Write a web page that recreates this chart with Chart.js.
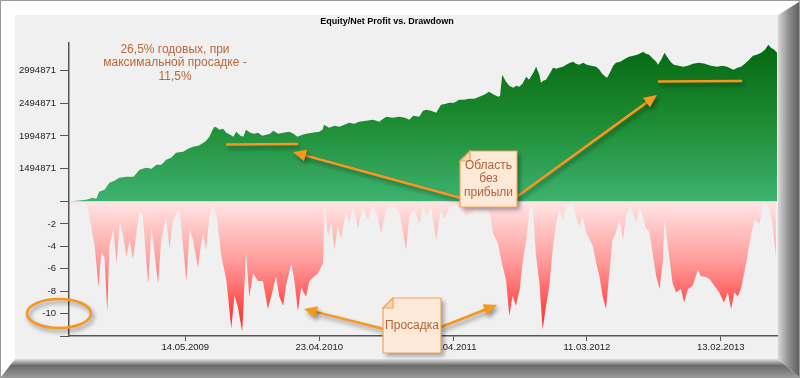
<!DOCTYPE html>
<html>
<head>
<meta charset="utf-8">
<script src="https://cdn.jsdelivr.net/npm/chart.js@4"></script>
<style>
  html, body { margin: 0; padding: 0; background: #fff; }
  #wrap { width: 800px; height: 378px; position: relative; }
</style>
</head>
<body>
<div id="wrap"><canvas id="chart" width="800" height="378"></canvas></div>
<script>
// Equity curve: trading day index -> equity
const eqDays = [0,32,43,50,55,65,74,83,92,105,
  118,129,141,151,160,169,178,187,196,209,
  218,227,237,246,251,257,262,266,271,275,
  282,288,295,301,306,314,319,324,332,339,
  346,354,361,368,374,383,392,403,411,418,
  427,434,445,458,464,467,473,476,486,495,
  504,513,522,531,544,557,568,575,581,592,
  605,615,623,630,641,648,654,663,672,681,
  690,696,705,714,723,732,742,751,760,769,
  778,786,789,793,797,800,806,813,819,824,
  830,837,842,850,855,861,864,868,873,881,
  886,892,897,904,910,917,923,928,934,941,
  948,956,965,971,976,982,985,991,996,1001,
  1009,1018,1025,1033,1040,1048,1051,1056,1062,1069,
  1075,1078,1084,1090,1096,1101,1107,1116,1124,1133,
  1142,1153,1164,1175,1186,1196,1205,1212,1217,1223,
  1230,1237,1245,1252,1259,1267,1274,1280,1285,1291,
  1296];
const eqValues = [995000,1021000,1051000,1036000,1143000,1173000,1280000,1311000,1357000,1372000,
  1372000,1479000,1509000,1494000,1555000,1555000,1631000,1662000,1738000,1754000,
  1800000,1830000,1845000,1891000,1922000,1983000,2074000,2136000,2120000,2090000,
  2105000,2044000,2013000,1983000,2059000,1998000,1983000,2090000,2044000,2029000,
  2044000,1998000,2013000,2029000,2074000,2029000,2044000,2059000,2029000,1983000,
  2013000,2029000,2044000,2059000,2090000,2166000,2135000,2120000,2151000,2135000,
  2166000,2196000,2181000,2212000,2227000,2242000,2212000,2257000,2288000,2273000,
  2288000,2273000,2242000,2303000,2288000,2379000,2395000,2379000,2349000,2471000,
  2486000,2502000,2502000,2547000,2547000,2563000,2563000,2593000,2624000,2669000,
  2624000,2593000,2608000,2929000,2868000,2822000,2761000,2731000,2761000,2746000,
  2792000,2899000,2853000,2960000,3051000,2929000,2807000,2838000,2853000,2960000,
  3036000,3021000,3036000,3051000,3082000,3112000,3128000,3097000,3082000,3112000,
  3082000,3066000,3051000,3005000,2944000,2899000,2883000,2975000,3066000,3112000,
  3128000,3173000,3204000,3219000,3234000,3265000,3280000,3250000,3234000,3173000,
  3128000,3082000,3158000,3265000,3189000,3128000,3082000,3066000,3051000,3066000,
  3097000,3112000,3097000,3066000,3051000,3066000,3051000,3021000,3005000,3036000,
  3051000,3097000,3158000,3219000,3234000,3265000,3311000,3387000,3341000,3311000,
  3265000];

// Drawdown, % : trading day index -> value
const ddDays = [0,8,19,32,37,47,54,59,65,70,
  74,81,87,93,99,105,111,117,123,129,
  135,145,151,163,169,178,184,190,202,215,
  221,227,236,245,251,257,263,270,279,288,
  297,303,309,317,324,330,337,346,355,364,
  370,379,385,392,398,407,413,419,425,434,
  440,446,456,465,468,474,480,486,492,498,
  507,513,520,529,538,547,556,565,571,581,
  593,605,617,623,632,642,648,654,663,672,
  681,687,696,709,727,745,770,776,785,791,
  800,806,812,818,825,831,837,843,849,855,
  861,867,873,879,886,892,898,904,910,922,
  928,934,940,947,959,965,971,977,983,989,
  995,1001,1008,1014,1020,1026,1032,1038,1044,1050,
  1056,1062,1069,1075,1081,1087,1090,1096,1105,1111,
  1120,1126,1133,1142,1151,1157,1163,1172,1181,1190,
  1199,1206,1212,1218,1224,1230,1236,1242,1248,1255,
  1264,1270,1276,1282,1288,1294];
const ddValues = [0,-0.3,-0.2,0,-1.3,-4,-7.6,-4.5,-5,-9.8,
  -4,-2.5,-5.5,-1.9,-3,-4.9,-3.5,-5.1,-3,-0.9,
  -1.2,-7.3,-2.3,-7.3,-3.3,-1.5,-4.2,-1.7,-0.6,-7.1,
  -2.5,-3.4,-5.9,-2.8,-4.3,-1.3,-0.4,-1.2,-4.9,-7,
  -11.3,-8.4,-9.4,-11.6,-4.5,-8.5,-6.4,-7.1,-7.1,-9.6,
  -8.5,-6.7,-8.5,-9.3,-7.3,-5.5,-7.2,-9.8,-7.7,-8.5,
  -7.1,-6.8,-6.4,-5.5,-0.1,-3.1,-1.9,-4.3,-2.2,-3.3,
  -0.9,-1.9,-0.4,-2.4,-0.4,-1.6,-0.4,-1.3,-2.8,-0.7,
  -0.3,-1.0,-4.3,-1.3,-0.7,-2.0,-0.2,-1.3,-0.5,-3.4,
  -0.7,-1.6,-0.5,-0.3,-1.3,-0.7,-0.9,-2.8,-3.7,-5.2,
  -7,-10.2,-8.4,-9.3,-7.8,-5.2,-3.4,-0.7,-0.4,-4.9,
  -7.2,-11.4,-9.4,-7.6,-4.0,-1.9,-0.7,-1.6,-0.4,-0.1,
  -1.3,-2.2,-1.3,-2.8,-4,-5.5,-6.7,-8.5,-9.6,-6.4,
  -3.4,-2.8,-1.6,-3.4,-1.3,-0.4,-1.0,-1.9,-0.4,-1.3,
  -2.4,-2.7,-4.8,-6.7,-7.8,-5.4,-1.6,-3.9,-7.3,-8.1,
  -7.8,-9.0,-7.8,-7.5,-6.1,-6.7,-6.7,-6.9,-7.5,-8.1,
  -9.0,-8.1,-9.6,-8.1,-8.5,-7.8,-6.4,-4.8,-3.1,-1.6,
  -2.0,-0.4,-0.1,-0.7,-2.0,-4.9];

// X axis ticks (day index -> date label)
const tickDays = [213, 458, 703, 948, 1193];
const tickLabels = ['14.05.2009', '23.04.2010', '13.04.2011', '11.03.2012', '13.02.2013'];
const eqTicks = [994871, 1494871, 1994871, 2494871, 2994871];
const ddTicks = [-12, -10, -8, -6, -4, -2, 0];

const FONT = '"Liberation Sans", Arial, sans-serif';

function vGradient(ctx, scale, stops) {
  const g = ctx.createLinearGradient(0, scale.top, 0, scale.bottom);
  stops.forEach(s => g.addColorStop(s[0], s[1]));
  return g;
}

// background panel + bevel frame
const framePlugin = {
  id: 'frame',
  beforeDraw(chart) {
    const c = chart.ctx;
    c.save();
    c.fillStyle = '#ffffff';
    c.fillRect(0, 0, 800, 378);
    c.strokeStyle = '#9a9a9a';
    c.lineWidth = 1;
    c.strokeRect(0.5, 0.5, 799, 377);
    // right face
    let g = c.createLinearGradient(778, 0, 800, 0);
    g.addColorStop(0, '#d8d8d8');
    g.addColorStop(0.5, '#8c8c8c');
    g.addColorStop(1, '#5c5c5c');
    c.fillStyle = g;
    c.beginPath();
    c.moveTo(778, 15); c.lineTo(799, 2); c.lineTo(799, 377); c.lineTo(778, 359);
    c.closePath(); c.fill();
    // bottom face
    g = c.createLinearGradient(0, 359, 0, 378);
    g.addColorStop(0, '#e0e0e0');
    g.addColorStop(0.35, '#6a6a6a');
    g.addColorStop(1, '#9a9a9a');
    c.fillStyle = g;
    c.beginPath();
    c.moveTo(15, 359); c.lineTo(778, 359); c.lineTo(799, 377); c.lineTo(1, 377);
    c.closePath(); c.fill();
    // panel
    c.fillStyle = '#f0f0f0';
    c.fillRect(15, 15, 763, 344);
    c.restore();
  }
};

function arrow(c, x1, y1, x2, y2) {
  const ang = Math.atan2(y2 - y1, x2 - x1);
  const len = 13, half = 6;
  const bx = x2 - Math.cos(ang) * len, by = y2 - Math.sin(ang) * len;
  c.beginPath();
  c.moveTo(x1, y1); c.lineTo(bx, by);
  c.stroke();
  c.beginPath();
  c.moveTo(x2, y2);
  c.lineTo(bx + Math.sin(ang) * half, by - Math.cos(ang) * half);
  c.lineTo(bx - Math.sin(ang) * half, by + Math.cos(ang) * half);
  c.closePath();
  c.fill();
}

function note(c, x, y, w, h, lines, lineH) {
  const f = 10;
  c.save();
  c.shadowColor = 'rgba(0,0,0,0.35)';
  c.shadowBlur = 4; c.shadowOffsetX = 3; c.shadowOffsetY = 3;
  c.fillStyle = '#fde9d7';
  c.beginPath();
  c.moveTo(x + f, y); c.lineTo(x + w, y); c.lineTo(x + w, y + h);
  c.lineTo(x, y + h); c.lineTo(x, y + f); c.closePath();
  c.fill();
  c.restore();
  c.save();
  c.strokeStyle = '#f2a55a';
  c.lineWidth = 1.2;
  c.beginPath();
  c.moveTo(x + f, y); c.lineTo(x + w, y); c.lineTo(x + w, y + h);
  c.lineTo(x, y + h); c.lineTo(x, y + f); c.closePath();
  c.stroke();
  c.fillStyle = '#fbd3b4';
  c.beginPath();
  c.moveTo(x, y + f); c.lineTo(x + f, y + f); c.lineTo(x + f, y); c.closePath();
  c.fill(); c.stroke();
  c.fillStyle = '#b0643a';
  c.font = '12px ' + FONT;
  c.textAlign = 'center';
  c.textBaseline = 'middle';
  lines.forEach((t, i) => c.fillText(t, x + w / 2, y + h / 2 + (i - (lines.length - 1) / 2) * lineH));
  c.restore();
}

const annotPlugin = {
  id: 'annot',
  afterDraw(chart) {
    const c = chart.ctx;
    c.save();
    // title
    c.fillStyle = '#000';
    c.font = 'bold 9px ' + FONT;
    c.textAlign = 'center';
    c.textBaseline = 'middle';
    c.fillText('Equity/Net Profit vs. Drawdown', 387, 22);
    // summary text
    c.fillStyle = '#b8683c';
    c.font = '12px ' + FONT;
    c.fillText('26,5% годовых, при', 175, 50);
    c.fillText('максимальной просадке -', 175, 63);
    c.fillText('11,5%', 175, 77);

    c.shadowColor = 'rgba(0,0,0,0.4)';
    c.shadowBlur = 4; c.shadowOffsetX = 2; c.shadowOffsetY = 3;
    c.strokeStyle = '#f7971e';
    c.fillStyle = '#f7971e';
    c.lineWidth = 2.5;
    c.lineCap = 'round';
    // flat regions
    c.beginPath(); c.moveTo(227, 144.5); c.lineTo(297, 144); c.stroke();
    c.beginPath(); c.moveTo(659, 81.5); c.lineTo(741, 81); c.stroke();
    // arrows
    arrow(c, 461, 198, 293, 152);
    arrow(c, 515, 198, 657, 95);
    arrow(c, 384, 329, 304, 309);
    arrow(c, 441, 327, 497, 305);
    // ellipse round -10
    c.beginPath();
    c.ellipse(59, 313.5, 32, 14.5, 0, 0, Math.PI * 2);
    c.stroke();
    c.restore();

    note(c, 460, 151, 57, 56, ['Область', 'без', 'прибыли'], 13.5);
    note(c, 383, 298, 58, 55, ['Просадка'], 13);
  }
};

const ctx = document.getElementById('chart').getContext('2d');
const tickFont = { family: FONT, size: 9.5 };

const chart = new Chart(ctx, {
  type: 'line',
  data: {
    datasets: [
      {
        label: 'Equity',
        data: eqDays.map((d, i) => ({ x: d, y: eqValues[i] })),
        yAxisID: 'yEq',
        borderWidth: 0,
        pointRadius: 0,
        tension: 0,
        fill: { value: 994871 },
        backgroundColor: (context) => {
          const s = context.chart.scales.yEq;
          if (!s || !context.chart.chartArea) return '#2a9a4a';
          return vGradient(context.chart.ctx, s, [[0, '#046710'], [0.5, '#1e8c34'], [1, '#3db370']]);
        }
      },
      {
        label: 'Drawdown',
        data: ddDays.map((d, i) => ({ x: d, y: ddValues[i] })),
        yAxisID: 'yDd',
        borderWidth: 0,
        pointRadius: 0,
        tension: 0,
        fill: 'origin',
        backgroundColor: (context) => {
          const s = context.chart.scales.yDd;
          if (!s || !context.chart.chartArea) return '#ff8080';
          return vGradient(context.chart.ctx, s, [[0, '#ffe6e6'], [0.45, '#ff9a9a'], [1, '#ff1a1a']]);
        }
      }
    ]
  },
  options: {
    responsive: false,
    animation: false,
    devicePixelRatio: 1,
    layout: { padding: { left: 14, right: 23, top: 43, bottom: 0 } },
    plugins: { legend: { display: false }, tooltip: { enabled: false }, title: { display: false } },
    scales: {
      x: {
        type: 'linear',
        min: 0,
        max: 1296,
        afterBuildTicks: (s) => { s.ticks = tickDays.map(v => ({ value: v })); },
        afterFit: (s) => { s.height = 42; },
        ticks: {
          autoSkip: false,
          maxRotation: 0,
          padding: 1,
          color: '#222',
          font: tickFont,
          callback: (v) => tickLabels[tickDays.indexOf(v)]
        },
        grid: { drawOnChartArea: false, drawTicks: true, tickLength: 5, color: '#555' },
        border: { color: '#555', width: 1.5 }
      },
      yEq: {
        type: 'linear',
        position: 'left',
        stack: 'main',
        stackWeight: 158,
        weight: 2,
        min: 994871,
        max: 3413000,
        afterBuildTicks: (s) => { s.ticks = eqTicks.map(v => ({ value: v })); },
        afterFit: (s) => { s.width = 55; },
        ticks: {
          autoSkip: false,
          padding: 4,
          color: '#222',
          font: tickFont,
          callback: (v) => (v === eqTicks[0] ? '' : String(v))
        },
        grid: { drawOnChartArea: false, drawTicks: true, tickLength: 9, color: '#555' },
        border: { color: '#555', width: 1.5 }
      },
      yDd: {
        type: 'linear',
        position: 'left',
        stack: 'main',
        stackWeight: 134,
        weight: 1,
        min: -12,
        max: 0,
        afterBuildTicks: (s) => { s.ticks = ddTicks.map(v => ({ value: v })); },
        afterFit: (s) => { s.width = 55; },
        ticks: {
          autoSkip: false,
          padding: 4,
          color: '#222',
          font: tickFont,
          callback: (v) => (v === 0 || v === -12 ? '' : String(v))
        },
        grid: { drawOnChartArea: false, drawTicks: true, tickLength: 9, color: '#555' },
        border: { color: '#555', width: 1.5 }
      }
    }
  },
  plugins: [framePlugin, annotPlugin]
});
</script>
</body>
</html>
